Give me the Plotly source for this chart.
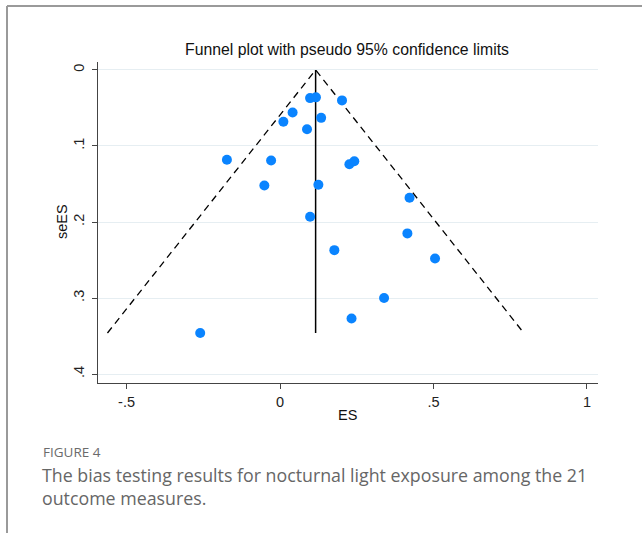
import plotly.graph_objects as go

# Data
es = [0.098, 0.117, 0.202, 0.041, 0.011, 0.134, 0.088, -0.029, 0.226, 0.242,
      -0.051, 0.125, 0.422, 0.098, 0.415, 0.177, 0.505, 0.339, -0.173, 0.233, -0.260]
se = [0.037, 0.036, 0.040, 0.056, 0.068, 0.063, 0.078, 0.119, 0.124, 0.120,
      0.152, 0.151, 0.168, 0.193, 0.215, 0.237, 0.248, 0.300, 0.118, 0.327, 0.346]
pooled_es = 0.116
z95 = 1.96
x_tickvals = [-0.5, 0, 0.5, 1]
x_ticktext = ["-.5", "0", ".5", "1"]
y_tickvals = [0, 0.1, 0.2, 0.3, 0.4]
y_ticktext = ["0", ".1", ".2", ".3", ".4"]

W, H = 642, 533
max_se = max(se)

def px(x):
    return x / W

def py(y):
    return 1 - y / H

fig = go.Figure()

# pseudo 95% confidence limits
fig.add_trace(go.Scatter(
    x=[pooled_es - z95 * max_se, pooled_es, pooled_es + z95 * max_se],
    y=[max_se, 0, max_se],
    mode="lines", line=dict(color="black", width=1.3, dash="7px,5px"),
    hoverinfo="skip", showlegend=False))
# pooled estimate
fig.add_trace(go.Scatter(
    x=[pooled_es, pooled_es], y=[0, max_se],
    mode="lines", line=dict(color="black", width=1.5),
    hoverinfo="skip", showlegend=False))
# studies
fig.add_trace(go.Scatter(
    x=es, y=se, mode="markers",
    marker=dict(color="rgb(10,132,255)", size=10, line=dict(width=0)),
    showlegend=False))

tick_font = dict(family="Liberation Sans, Arial", size=14.5, color="#222")

fig.update_layout(
    width=W, height=H,
    margin=dict(l=0, r=0, t=0, b=0),
    paper_bgcolor="white", plot_bgcolor="white",
    xaxis=dict(
        domain=[px(98), px(598)],
        range=[-0.593, 1.036],
        tickvals=x_tickvals, ticktext=x_ticktext,
        showgrid=False, zeroline=False,
        showline=True, linecolor="#444", linewidth=1.3,
        ticks="outside", ticklen=5, tickcolor="#444", tickwidth=1.2,
        tickfont=tick_font,
    ),
    yaxis=dict(
        domain=[py(383), py(62)],
        range=[0.4118, -0.0105],
        tickvals=y_tickvals, ticktext=y_ticktext,
        showgrid=True, gridcolor="#e6eef2", gridwidth=1.3,
        zeroline=False,
        showline=True, linecolor="#444", linewidth=1.3,
        ticks="outside", ticklen=5, tickcolor="#444", tickwidth=1.2,
        tickangle=-90, ticklabelstandoff=2,
        tickfont=tick_font,
    ),
    font=dict(family="Liberation Sans, Arial"),
)

ann = [
    dict(text="Funnel plot with pseudo 95% confidence limits", x=px(347), y=py(50),
         font=dict(family="Liberation Sans, Arial", size=15.8, color="#111")),
    dict(text="ES", x=px(347), y=py(415),
         font=dict(family="Liberation Sans, Arial", size=14.5, color="#111")),
    dict(text="seES", x=px(62), y=py(222), textangle=-90,
         font=dict(family="Liberation Sans, Arial", size=14.5, color="#111")),
]
for a in ann:
    fig.add_annotation(xref="paper", yref="paper", showarrow=False,
                       xanchor="center", yanchor="middle", **a)

fig.add_annotation(xref="paper", yref="paper", showarrow=False,
                   xanchor="left", yanchor="middle", x=px(41), y=py(452),
                   text="FIGURE 4",
                   font=dict(family="Open Sans", size=13.5, color="#6b6b6b"))
fig.add_annotation(xref="paper", yref="paper", showarrow=False,
                   xanchor="left", yanchor="top", x=px(40), y=py(461),
                   align="left",
                   text="The bias testing results for nocturnal light exposure among the 21<br>outcome measures.",
                   font=dict(family="Open Sans", size=17.8, color="#666"))

# page frame lines
fig.add_shape(type="line", xref="paper", yref="paper",
              x0=px(7), x1=1, y0=py(6), y1=py(6),
              line=dict(color="#9a9a9a", width=2))
fig.add_shape(type="line", xref="paper", yref="paper",
              x0=px(7), x1=px(7), y0=py(6), y1=0,
              line=dict(color="#9a9a9a", width=2))

fig.write_html("out.html")
